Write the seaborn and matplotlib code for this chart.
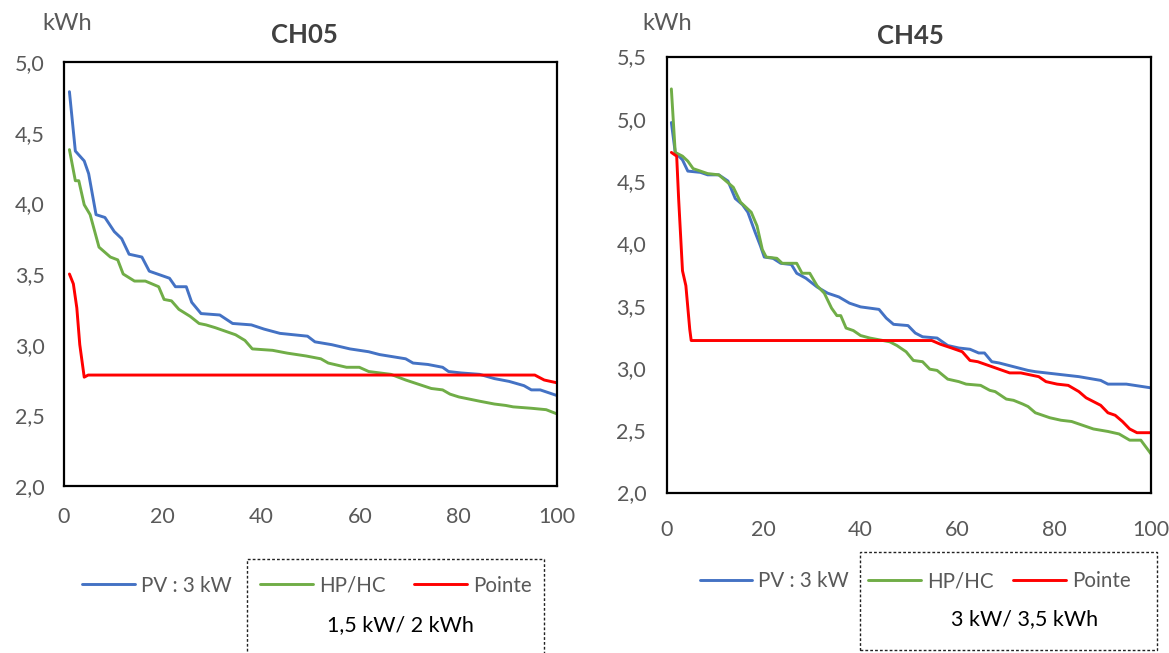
import matplotlib
matplotlib.use("Agg")
import matplotlib.pyplot as plt
from matplotlib.patches import Rectangle
from matplotlib.ticker import FuncFormatter, MultipleLocator
import seaborn as sns
import pandas as pd

# ---------------- data ----------------
series_names = ["PV : 3 kW", "HP/HC", "Pointe"]
series_colors = ["#4472C4", "#70AD47", "#FF0000"]

ch05_pv_x = [1.1, 2.3, 4.1, 5, 6.5, 8.3, 10.2, 11.7, 13.2, 15.8, 17.3, 21.4, 22.6, 24.8, 25.9, 27.8, 31.6, 34.2, 38, 40.6,
             43.8, 49.4, 50.9, 54.3, 58, 61.8, 64, 69.3, 70.8, 73.8, 76.8, 78, 80.5, 84.3, 87.3, 90.3, 93.3, 94.8, 96.6, 100]
ch05_pv_y = [4.79, 4.37, 4.30, 4.21, 3.92, 3.90, 3.80, 3.75, 3.64, 3.62, 3.52, 3.47, 3.41, 3.41, 3.30, 3.22, 3.21, 3.15, 3.14, 3.11,
             3.08, 3.06, 3.02, 3.00, 2.97, 2.95, 2.93, 2.90, 2.87, 2.86, 2.84, 2.81, 2.80, 2.79, 2.76, 2.74, 2.71, 2.68, 2.68, 2.64]

ch05_hp_x = [1.1, 2.3, 3, 4.1, 5.3, 7.1, 9.4, 10.9, 12, 14.3, 16.5, 19.2, 20.3, 21.8, 23.3, 25.6, 27.4, 28.8, 30.7, 34.8,
             36.7, 38.2, 42.3, 45.3, 49.1, 52.1, 53.6, 57.3, 59.9, 61.8, 66.3, 69.3, 74.5, 76.8, 78.3, 80.1, 84.3, 87.3, 89.6, 91.1,
             94.8, 97.8, 100]
ch05_hp_y = [4.38, 4.16, 4.16, 3.99, 3.92, 3.69, 3.62, 3.60, 3.50, 3.45, 3.45, 3.41, 3.32, 3.31, 3.25, 3.20, 3.15, 3.14, 3.12, 3.07,
             3.03, 2.97, 2.96, 2.94, 2.92, 2.90, 2.87, 2.84, 2.84, 2.81, 2.79, 2.75, 2.69, 2.68, 2.65, 2.63, 2.60, 2.58, 2.57, 2.56,
             2.55, 2.54, 2.51]

ch05_pt_x = [1.1, 1.9, 2.6, 3.2, 4.1, 4.9, 95.5, 97.4, 100]
ch05_pt_y = [3.50, 3.43, 3.26, 3.00, 2.77, 2.785, 2.785, 2.75, 2.73]

ch45_pv_x = [0.9, 1.7, 3.2, 4.3, 6.9, 8.4, 10.7, 12.6, 14.1, 15.6, 16.7, 18.2, 19.3, 20.1, 21.9, 23.5, 25.7, 26.8, 28.7, 31,
             33.2, 35.5, 37.7, 40, 43.8, 45.3, 46.8, 49.8, 51.3, 52.8, 55.8, 58, 60.3, 62.6, 64.4, 65.6, 67.1, 68.6, 71.6, 74.6,
             76.1, 80.6, 85.1, 89.6, 91.1, 94.9, 100]
ch45_pv_y = [4.97, 4.73, 4.67, 4.58, 4.57, 4.55, 4.55, 4.50, 4.36, 4.31, 4.25, 4.09, 3.98, 3.89, 3.88, 3.84, 3.83, 3.76, 3.72, 3.65,
             3.60, 3.57, 3.52, 3.49, 3.47, 3.40, 3.35, 3.34, 3.28, 3.25, 3.24, 3.18, 3.16, 3.15, 3.12, 3.12, 3.05, 3.04, 3.01, 2.98,
             2.97, 2.95, 2.93, 2.90, 2.87, 2.87, 2.84]

ch45_hp_x = [0.9, 1.7, 3.2, 4.3, 5.4, 8.4, 10.7, 13.7, 15.2, 17.4, 18.6, 19.7, 20.5, 22.7, 23.8, 26.8, 27.9, 29.5, 31, 32.5,
             34, 35.1, 35.9, 37, 38.5, 40, 41.9, 46, 47.5, 49.4, 50.9, 52.8, 54.3, 55.8, 58, 60.3, 61.8, 64.8, 66.7, 67.8,
             70.1, 71.6, 73.5, 74.6, 76.1, 79.1, 81.4, 83.6, 85.1, 88.1, 91.1, 93.4, 95.6, 97.9, 100]
ch45_hp_y = [5.24, 4.73, 4.70, 4.66, 4.60, 4.56, 4.55, 4.45, 4.33, 4.25, 4.14, 3.95, 3.89, 3.88, 3.84, 3.84, 3.76, 3.76, 3.66, 3.60,
             3.48, 3.42, 3.42, 3.32, 3.30, 3.26, 3.24, 3.21, 3.18, 3.13, 3.06, 3.05, 2.99, 2.98, 2.91, 2.89, 2.87, 2.86, 2.82, 2.81,
             2.75, 2.74, 2.71, 2.69, 2.64, 2.60, 2.58, 2.57, 2.55, 2.51, 2.49, 2.47, 2.42, 2.42, 2.31]

ch45_pt_x = [0.9, 2.0, 2.4, 3.2, 3.9, 4.7, 5.0, 54.7, 56.5, 58.8, 61, 62.6, 64.2, 66.4, 68.6, 70.8, 73.1, 76.8, 78.3, 80.6,
             82.9, 85.1, 86.6, 88.1, 89.6, 91.1, 92.6, 94.1, 95.6, 97.1, 100]
ch45_pt_y = [4.73, 4.70, 4.36, 3.78, 3.66, 3.31, 3.22, 3.22, 3.19, 3.16, 3.13, 3.06, 3.05, 3.02, 2.99, 2.96, 2.96, 2.93, 2.89, 2.87,
             2.86, 2.81, 2.76, 2.73, 2.70, 2.64, 2.62, 2.57, 2.51, 2.48, 2.48]

titles = ["CH05", "CH45"]
box_texts = ["1,5 kW/ 2 kWh", "3 kW/ 3,5 kWh"]
y_unit = "kWh"
x_ticks = [0, 20, 40, 60, 80, 100]
y_limits = [(2.0, 5.0), (2.0, 5.5)]


def make_df(xs, ys):
    parts = []
    for name, x, y in zip(series_names, xs, ys):
        parts.append(pd.DataFrame({"x": x, "y": y, "series": name}))
    return pd.concat(parts, ignore_index=True)


df05 = make_df([ch05_pv_x, ch05_hp_x, ch05_pt_x], [ch05_pv_y, ch05_hp_y, ch05_pt_y])
df45 = make_df([ch45_pv_x, ch45_hp_x, ch45_pt_x], [ch45_pv_y, ch45_hp_y, ch45_pt_y])

# ---------------- style ----------------
sns.set_theme(style="white")
plt.rcParams["font.family"] = ["Lato", "DejaVu Sans"]

W, H = 1169, 653
fig = plt.figure(figsize=(W / 100, H / 100), dpi=100)
fig.patch.set_facecolor("white")


def fx(px):
    return px / W


def fy(py):
    return 1 - py / H


# axes rectangles in pixels: left, top, right, bottom
rects = [(64, 62, 557, 486), (667, 56.5, 1151, 492.5)]
xpads = [15, 20]
ypads = [14, 15]
title_y = [35, 36]
title_x = [304, 910]
kwh_x = [42, 642]
legend_pos = [(307, 585.5), (915, 581)]
legend_colsp = [1.4, 0.95]
box_rects = [(247, 559, 544, 660), (860, 552, 1157, 650)]
box_text_pos = [(400, 625), (1025, 619)]

grey = "#595959"
comma = FuncFormatter(lambda v, p: f"{v:.1f}".replace(".", ","))

for i, df in enumerate([df05, df45]):
    l, t, r, b = rects[i]
    ax = fig.add_axes([fx(l), fy(b), fx(r - l), (b - t) / H])
    sns.lineplot(data=df, x="x", y="y", hue="series", hue_order=series_names,
                 palette=series_colors, estimator=None, sort=False, linewidth=2.1,
                 legend=False, ax=ax)
    ax.set_xlim(0, 100)
    ax.set_ylim(*y_limits[i])
    ax.set_xticks(x_ticks)
    ax.yaxis.set_major_locator(MultipleLocator(0.5))
    ax.yaxis.set_major_formatter(comma)
    ax.set_xlabel("")
    ax.set_ylabel("")
    ax.tick_params(axis="both", length=0, labelsize=15.5, labelcolor=grey)
    ax.tick_params(axis="x", pad=xpads[i])
    ax.tick_params(axis="y", pad=ypads[i])
    for s in ax.spines.values():
        s.set_color("black")
        s.set_linewidth(1.6)
        s.set_visible(True)
    ax.set_facecolor("white")

    fig.text(fx(title_x[i]), fy(title_y[i]), titles[i], ha="center", va="center",
             fontsize=18.5, fontweight="bold", color="#404040")
    fig.text(fx(kwh_x[i]), fy(24), y_unit, ha="left", va="center", fontsize=17, color=grey)

    handles = ax.get_lines()[:3]
    lx, ly = legend_pos[i]
    fig.legend(handles, series_names, loc="center", bbox_to_anchor=(fx(lx), fy(ly)),
               ncol=3, frameon=False, fontsize=14.8, labelcolor=grey,
               handlelength=2.55, handletextpad=0.3, columnspacing=legend_colsp[i],
               borderaxespad=0, borderpad=0)

    bl, bt, br, bb = box_rects[i]
    fig.patches.append(Rectangle((fx(bl), fy(bb)), fx(br - bl), (bb - bt) / H,
                                 transform=fig.transFigure, fill=False,
                                 edgecolor="#222222", linewidth=1.0,
                                 linestyle=(0, (2, 1.5)), zorder=0))
    tx, ty = box_text_pos[i]
    fig.text(fx(tx), fy(ty), box_texts[i], ha="center", va="center",
             fontsize=15.5, color="black")

fig.savefig("out.png", dpi=100)
